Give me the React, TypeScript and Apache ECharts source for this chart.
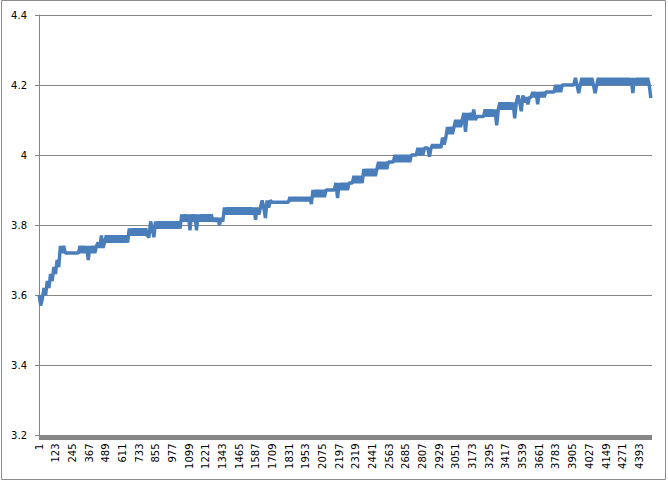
import React, { useEffect, useRef } from "react";
import * as echarts from "echarts";

// x axis: sequential record numbers 1..4485
const categoryCount = 4485;
const categories: string[] = Array.from({ length: categoryCount }, (_, i) => String(i + 1));

// one reading kept every 12 records
const sampleStep = 12;

// readings (V)
const voltage: number[] = [
  3.60, 3.57, 3.59, 3.62, 3.60, 3.64, 3.62, 3.66, 3.64, 3.68, 3.66, 3.70, 3.68, 3.74, 3.72, 3.74,
  3.72, 3.72, 3.72, 3.72, 3.72, 3.72, 3.72, 3.72,
  3.72, 3.74, 3.72, 3.74, 3.72, 3.74, 3.70, 3.74, 3.72, 3.74, 3.72,
  3.74, 3.75, 3.735, 3.77, 3.735, 3.75,
  3.77, 3.75, 3.77, 3.75, 3.77, 3.75, 3.77, 3.75, 3.77, 3.75, 3.77, 3.75, 3.77, 3.75,
  3.79, 3.77, 3.79, 3.77, 3.79, 3.77, 3.79, 3.77, 3.79, 3.77, 3.79, 3.77,
  3.765, 3.81, 3.79, 3.765, 3.81, 3.79, 3.81, 3.79, 3.81, 3.79, 3.81, 3.79, 3.81, 3.79, 3.81, 3.79, 3.81, 3.79, 3.81, 3.79,
  3.83, 3.81, 3.83, 3.81, 3.83, 3.785, 3.83, 3.81, 3.83, 3.785, 3.83, 3.81, 3.83, 3.81, 3.83, 3.81, 3.83, 3.81, 3.83, 3.81,
  3.82, 3.81, 3.82, 3.80, 3.82, 3.81,
  3.85, 3.83, 3.85, 3.83, 3.85, 3.83, 3.85, 3.83, 3.85, 3.83, 3.85, 3.83, 3.85, 3.83, 3.85, 3.83, 3.85, 3.83, 3.85, 3.815, 3.85, 3.83, 3.85,
  3.87, 3.85, 3.82, 3.87, 3.85, 3.87,
  3.865, 3.865, 3.865, 3.865, 3.865, 3.865, 3.865, 3.865, 3.865, 3.865, 3.865,
  3.88, 3.868, 3.88, 3.868, 3.88, 3.868, 3.88, 3.868, 3.88, 3.868, 3.88, 3.868, 3.88,
  3.86,
  3.90, 3.88, 3.90, 3.88, 3.90, 3.88, 3.90, 3.88,
  3.90, 3.90, 3.90, 3.90, 3.90, 3.90,
  3.92, 3.877, 3.92, 3.90, 3.92, 3.90, 3.92, 3.90,
  3.92, 3.92, 3.92,
  3.94, 3.92, 3.94, 3.92, 3.94, 3.92,
  3.96, 3.94, 3.96, 3.94, 3.96, 3.94, 3.96, 3.94,
  3.96,
  3.98, 3.96, 3.98, 3.96, 3.98, 3.96, 3.98,
  3.98, 3.98, 3.98,
  4.00, 3.98, 4.00, 3.98, 4.00, 3.98, 4.00, 3.98, 4.00, 3.98, 4.00,
  4.00, 4.00, 4.00,
  4.02, 4.00, 4.02, 4.00,
  4.02, 4.02, 4.02, 3.995, 4.02,
  4.03, 4.02, 4.03, 4.02, 4.03, 4.02,
  4.05, 4.03, 4.05,
  4.08, 4.06, 4.08, 4.06, 4.08,
  4.10, 4.08, 4.10, 4.08, 4.10,
  4.12, 4.066, 4.12, 4.10, 4.12, 4.10, 4.13, 4.10,
  4.11, 4.11, 4.11, 4.11, 4.11,
  4.13, 4.11, 4.13, 4.11, 4.13, 4.11, 4.13, 4.085, 4.13,
  4.15, 4.13, 4.15, 4.13, 4.15, 4.13, 4.15, 4.13, 4.15, 4.105, 4.15,
  4.17, 4.15, 4.125, 4.17, 4.15,
  4.165, 4.145, 4.165, 4.165,
  4.18, 4.165, 4.18, 4.145, 4.18, 4.165, 4.18, 4.165, 4.18,
  4.18, 4.18, 4.18, 4.18, 4.18,
  4.20, 4.18, 4.20, 4.18,
  4.20, 4.20, 4.20, 4.20, 4.20, 4.20, 4.20, 4.20,
  4.22, 4.20, 4.177, 4.20, 4.22, 4.20, 4.22, 4.20, 4.22, 4.20, 4.22, 4.20, 4.177, 4.20, 4.22, 4.20,
  4.22, 4.20, 4.22, 4.20, 4.22, 4.20, 4.22, 4.20, 4.22, 4.20, 4.22, 4.20, 4.22, 4.20, 4.22, 4.20,
  4.22, 4.20, 4.22, 4.177, 4.22, 4.20, 4.22, 4.20, 4.22, 4.20, 4.22, 4.20, 4.22, 4.20,
  4.163,
];

const yMin = 3.2;
const yMax = 4.4;
const yStep = 0.2;

export default function App() {
  const ref = useRef<HTMLDivElement>(null);

  useEffect(() => {
    if (!ref.current) return;
    const chart = echarts.init(ref.current, undefined, { renderer: "svg" });
    const seriesData = voltage.map((v, i) => [i * sampleStep, v]);
    const axisGray = "#868686";
    chart.setOption({
      animation: false,
      backgroundColor: "#ffffff",
      grid: { left: 39, right: 16, top: 15, bottom: 46, containLabel: false },
      xAxis: {
        type: "category",
        data: categories,
        boundaryGap: true,
        offset: 2.5,
        axisLine: { show: true, lineStyle: { color: axisGray, width: 5, cap: "butt" } },
        axisTick: { show: false },
        axisLabel: {
          interval: 121,
          rotate: 90,
          margin: 6,
          fontSize: 10,
          fontFamily: "DejaVu Sans",
          color: "#000000",
        },
        splitLine: { show: false },
      },
      yAxis: {
        type: "value",
        min: yMin,
        max: yMax,
        interval: yStep,
        axisLine: { show: true, lineStyle: { color: axisGray, width: 1 } },
        axisTick: { show: true, length: 4, lineStyle: { color: axisGray } },
        axisLabel: { fontSize: 10, fontFamily: "DejaVu Sans", color: "#000000", margin: 12 },
        splitLine: { show: true, lineStyle: { color: axisGray, width: 1 } },
      },
      series: [
        {
          type: "line",
          data: seriesData,
          showSymbol: false,
          symbol: "none",
          silent: true,
          lineStyle: { color: "#4a7ebb", width: 3.4, join: "bevel", cap: "butt" },
        },
      ],
      graphic: [
        {
          type: "rect",
          shape: { x: 1.5, y: 0.5, width: 664, height: 479 },
          style: { fill: "none", stroke: "#8c8c8c", lineWidth: 1 },
          silent: true,
        },
      ],
    });
    return () => chart.dispose();
  }, []);

  return (
    <div
      ref={ref}
      style={{ position: "absolute", left: 0, top: 0, width: 668, height: 481 }}
    />
  );
}
